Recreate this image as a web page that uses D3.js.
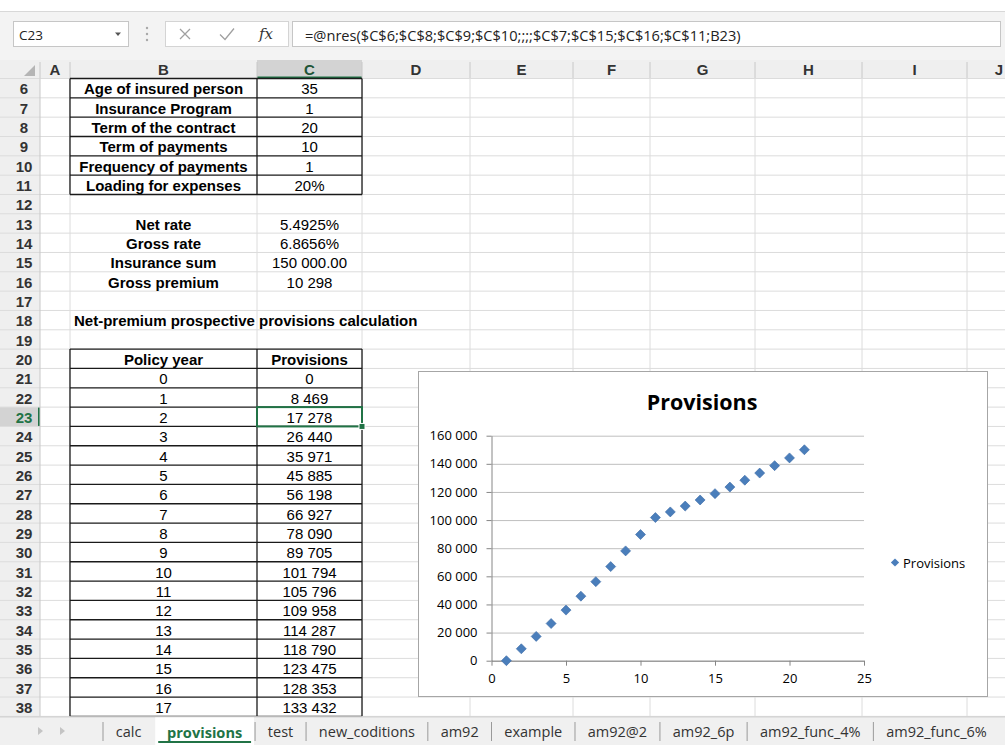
<!DOCTYPE html>
<html>
<head>
<meta charset="utf-8">
<script src="https://cdn.jsdelivr.net/npm/d3@7"></script>
<style>
  body { margin: 0; background: #fff; }
  svg { display: block; }
</style>
</head>
<body>
<svg id="sheet" width="1005" height="745"></svg>
<script>
const colLetters = ["A", "B", "C", "D", "E", "F", "G", "H", "I", "J"]
const paramLabels = ["Age of insured person", "Insurance Program", "Term of the contract", "Term of payments", "Frequency of payments", "Loading for expenses"]
const paramValues = ["35", "1", "20", "10", "1", "20%"]
const rateLabels = ["Net rate", "Gross rate", "Insurance sum", "Gross premium"]
const rateValues = ["5.4925%", "6.8656%", "150 000.00", "10 298"]
const tableTitle = "Net-premium prospective provisions calculation"
const tableHeader = ["Policy year", "Provisions"]
const policyYears = [0, 1, 2, 3, 4, 5, 6, 7, 8, 9, 10, 11, 12, 13, 14, 15, 16, 17, 18, 19, 20]
// last three rows are hidden below row 38, estimated from the chart
const provisions = [0, 8469, 17278, 26440, 35971, 45885, 56198, 66927, 78090, 89705, 101794, 105796, 109958, 114287, 118790, 123475, 128353, 133432, 138700, 144200, 150000]
const yTicks = [0, 20000, 40000, 60000, 80000, 100000, 120000, 140000, 160000]
const xTicks = [0, 5, 10, 15, 20, 25]
const seriesName = "Provisions"
const chartTitle = "Provisions"
const sheetTabs = ["calc", "provisions", "test", "new_coditions", "am92", "example", "am92@2", "am92_6p", "am92_func_4%", "am92_func_6%"]
const activeTab = "provisions"
const nameBox = "C23"
const formulaText = "=@nres($C$6;$C$8;$C$9;$C$10;;;;$C$7;$C$15;$C$16;$C$11;B23)"

// ---- layout ----
const W = 1005, H = 745
const colEdges = [0, 40, 70, 257, 362, 470, 573, 650, 755, 862, 967, 1005]
const FIRST_ROW = 6, LAST_ROW = 38
const ROW_TOP = 78.5, ROW_H = 19.33
const rowTop = r => ROW_TOP + (r - FIRST_ROW) * ROW_H
const rowMid = r => rowTop(r) + ROW_H / 2 + 0.8
const colMid = c => (colEdges[c + 1] + colEdges[c + 2]) / 2   // c = 0 for column A
const SEL_COL = 2, SEL_ROW = 23
const green = "#217346"
const cellFont = "'Liberation Sans', Arial, sans-serif"
const uiFont = "'Open Sans', 'Noto Sans', sans-serif"

const fmt = d3.formatLocale({ decimal: ".", thousands: " ", grouping: [3], currency: ["", ""] }).format(",d")

const svg = d3.select("#sheet")
svg.append("rect").attr("width", W).attr("height", H).attr("fill", "#fff")

// ---- formula bar ----
svg.append("rect").attr("x", 0).attr("y", 11).attr("width", W).attr("height", 49).attr("fill", "#f3f3f3")
svg.append("line").attr("x1", 0).attr("x2", W).attr("y1", 11.5).attr("y2", 11.5).attr("stroke", "#d8d8d8")
svg.append("rect").attr("x", 13.5).attr("y", 21.5).attr("width", 115).attr("height", 25)
    .attr("fill", "#fff").attr("stroke", "#c6c6c6")
svg.append("text").attr("x", 19).attr("y", 34.5).attr("dominant-baseline", "central")
    .attr("font-family", uiFont).attr("font-size", 13.5).attr("fill", "#222").text(nameBox)
svg.append("path").attr("d", "M115,32.5 L121,32.5 L118,36 Z").attr("fill", "#555")
svg.selectAll("circle.dot").data([28, 34, 40]).join("circle").attr("class", "dot")
    .attr("cx", 147).attr("cy", d => d).attr("r", 1.2).attr("fill", "#a8a8a8")
svg.append("rect").attr("x", 165.5).attr("y", 21.5).attr("width", 123).attr("height", 25)
    .attr("fill", "#fff").attr("stroke", "#d4d4d4")
svg.append("path").attr("d", "M180,29 L190,39 M190,29 L180,39").attr("stroke", "#a0a0a0").attr("stroke-width", 1.3)
svg.append("path").attr("d", "M220,34.5 L225,39.5 L234,28.5").attr("stroke", "#a0a0a0").attr("stroke-width", 1.3).attr("fill", "none")
svg.append("text").attr("x", 259).attr("y", 39).attr("font-family", "'DejaVu Serif', serif")
    .attr("font-style", "italic").attr("font-size", 15).attr("fill", "#333").text("fx")
svg.append("rect").attr("x", 292.5).attr("y", 21.5).attr("width", 708).attr("height", 25)
    .attr("fill", "#fff").attr("stroke", "#c6c6c6")
svg.append("text").attr("x", 305).attr("y", 34.5).attr("dominant-baseline", "central")
    .attr("font-family", uiFont).attr("font-size", 14.6).attr("fill", "#222").text(formulaText)

// ---- column headers ----
const hdr = svg.append("g")
hdr.append("rect").attr("x", 0).attr("y", 60).attr("width", W).attr("height", ROW_TOP - 60).attr("fill", "#efefef")
hdr.append("rect").attr("x", colEdges[SEL_COL + 1]).attr("y", 60)
    .attr("width", colEdges[SEL_COL + 2] - colEdges[SEL_COL + 1]).attr("height", ROW_TOP - 60).attr("fill", "#d3d3d3")
hdr.append("line").attr("x1", colEdges[SEL_COL + 1]).attr("x2", colEdges[SEL_COL + 2])
    .attr("y1", ROW_TOP - 1).attr("y2", ROW_TOP - 1).attr("stroke", green).attr("stroke-width", 2)
hdr.selectAll("line.csep").data(colEdges.slice(1, -1)).join("line").attr("class", "csep")
    .attr("x1", d => d).attr("x2", d => d).attr("y1", 62).attr("y2", ROW_TOP).attr("stroke", "#c8c8c8")
hdr.selectAll("text").data(colLetters).join("text")
    .attr("x", (d, i) => i === colLetters.length - 1 ? W - 6 : colMid(i))
    .attr("y", 69.5).attr("dominant-baseline", "central").attr("text-anchor", "middle")
    .attr("font-family", cellFont).attr("font-size", 15).attr("font-weight", "bold")
    .attr("fill", (d, i) => i === SEL_COL ? "#1f5537" : "#333").text(d => d)
hdr.append("path").attr("d", "M35,65 L35,76 L24,76 Z").attr("fill", "#b5b5b5")

// ---- row headers + gridlines ----
const rows = d3.range(FIRST_ROW, LAST_ROW + 1)
const grid = svg.append("g")
grid.append("rect").attr("x", 0).attr("y", ROW_TOP).attr("width", 40).attr("height", rowTop(LAST_ROW + 1) - ROW_TOP).attr("fill", "#efefef")
grid.append("rect").attr("x", 0).attr("y", rowTop(SEL_ROW)).attr("width", 40).attr("height", ROW_H).attr("fill", "#d3d3d3")
grid.append("line").attr("x1", 39).attr("x2", 39).attr("y1", rowTop(SEL_ROW)).attr("y2", rowTop(SEL_ROW + 1))
    .attr("stroke", green).attr("stroke-width", 2)
grid.selectAll("line.h").data(d3.range(FIRST_ROW, LAST_ROW + 2)).join("line").attr("class", "h")
    .attr("x1", 0).attr("x2", W).attr("y1", d => rowTop(d)).attr("y2", d => rowTop(d))
    .attr("stroke", "#dcdcdc")
grid.selectAll("line.v").data(colEdges.slice(1, -1)).join("line").attr("class", "v")
    .attr("x1", d => d).attr("x2", d => d).attr("y1", ROW_TOP).attr("y2", rowTop(LAST_ROW + 1))
    .attr("stroke", (d, i) => i === 0 ? "#c8c8c8" : "#dcdcdc")
grid.selectAll("text").data(rows).join("text")
    .attr("x", 24).attr("y", d => rowMid(d)).attr("dominant-baseline", "central").attr("text-anchor", "middle")
    .attr("font-family", cellFont).attr("font-size", 15).attr("font-weight", "bold")
    .attr("fill", d => d === SEL_ROW ? green : "#333").text(d => d)

// ---- cells ----
const cells = svg.append("g").attr("font-family", cellFont).attr("font-size", 15).attr("fill", "#000")

function borderBox(r0, r1) {
  const x0 = colEdges[2], x1 = colEdges[3], x2 = colEdges[4]
  const g = cells.append("g").attr("stroke", "#1a1a1a").attr("stroke-width", 1.3)
  g.selectAll("line.r").data(d3.range(r0, r1 + 2)).join("line").attr("class", "r")
      .attr("x1", x0).attr("x2", x2).attr("y1", d => rowTop(d)).attr("y2", d => rowTop(d))
  g.selectAll("line.c").data([x0, x1, x2]).join("line").attr("class", "c")
      .attr("x1", d => d).attr("x2", d => d).attr("y1", rowTop(r0)).attr("y2", rowTop(r1 + 1))
}
function putText(row, col, txt, bold, anchor) {
  cells.append("text")
      .attr("x", anchor === "start" ? colEdges[col + 1] + 4 : colMid(col))
      .attr("y", rowMid(row)).attr("dominant-baseline", "central")
      .attr("text-anchor", anchor || "middle").attr("font-weight", bold ? "bold" : "normal").text(txt)
}

const tableRows = Math.min(policyYears.length, LAST_ROW - 21 + 1)
cells.append("rect").attr("x", colEdges[2]).attr("y", rowTop(FIRST_ROW)).attr("width", colEdges[4] - colEdges[2])
    .attr("height", ROW_H * paramLabels.length).attr("fill", "#fff")
cells.append("rect").attr("x", colEdges[2]).attr("y", rowTop(20)).attr("width", colEdges[4] - colEdges[2])
    .attr("height", ROW_H * (tableRows + 1)).attr("fill", "#fff")
borderBox(6, 6 + paramLabels.length - 1)
borderBox(20, 20 + tableRows)

paramLabels.forEach((d, i) => { putText(6 + i, 1, d, true); putText(6 + i, 2, paramValues[i], false) })
rateLabels.forEach((d, i) => { putText(13 + i, 1, d, true); putText(13 + i, 2, rateValues[i], false) })
putText(18, 1, tableTitle, true, "start")
putText(20, 1, tableHeader[0], true); putText(20, 2, tableHeader[1], true)
policyYears.slice(0, tableRows).forEach((d, i) => {
  putText(21 + i, 1, d, false)
  putText(21 + i, 2, fmt(provisions[i]), false)
})

// selected cell
const sx = colEdges[SEL_COL + 1], sx2 = colEdges[SEL_COL + 2]
svg.append("rect").attr("x", sx).attr("y", rowTop(SEL_ROW)).attr("width", sx2 - sx).attr("height", ROW_H)
    .attr("fill", "none").attr("stroke", green).attr("stroke-width", 2)
svg.append("rect").attr("x", sx2 - 3).attr("y", rowTop(SEL_ROW + 1) - 3).attr("width", 6).attr("height", 6)
    .attr("fill", green).attr("stroke", "#fff").attr("stroke-width", 1)

// ---- chart ----
const chart = svg.append("g").attr("font-family", uiFont)
chart.append("rect").attr("x", 418.5).attr("y", 371.5).attr("width", 569).attr("height", 325)
    .attr("fill", "#fff").attr("stroke", "#a6a6a6")

const x = d3.scaleLinear().domain([0, 25]).range([491.5, 864])
const y = d3.scaleLinear().domain([0, 160000]).range([660.7, 435.7])

chart.append("text").attr("x", 702).attr("y", 401).attr("dominant-baseline", "central")
    .attr("text-anchor", "middle").attr("font-size", 21.5).attr("font-weight", "bold").attr("fill", "#000")
    .text(chartTitle)

// gridlines
chart.append("g").attr("transform", `translate(${x(0)},0)`)
    .call(d3.axisLeft(y).tickValues(yTicks).tickSize(-(x(25) - x(0))).tickFormat(""))
    .call(g => g.select(".domain").remove())
    .call(g => g.selectAll("line").attr("stroke", "#bfbfbf"))

// y axis
chart.append("g").attr("transform", `translate(${x(0)},0)`)
    .call(d3.axisLeft(y).tickValues(yTicks).tickSize(5).tickSizeOuter(0).tickPadding(9).tickFormat(fmt))
    .call(g => g.select(".domain").attr("stroke", "#868686"))
    .call(g => g.selectAll("line").attr("stroke", "#868686"))
    .call(g => g.selectAll("text").attr("font-family", uiFont).attr("font-size", 13).attr("fill", "#000"))

// x axis
chart.append("g").attr("transform", `translate(0,${y(0)})`)
    .call(d3.axisBottom(x).tickValues(xTicks).tickSize(5).tickSizeOuter(0).tickPadding(8))
    .call(g => g.select(".domain").attr("stroke", "#868686"))
    .call(g => g.selectAll("line").attr("stroke", "#868686"))
    .call(g => g.selectAll("text").attr("font-family", uiFont).attr("font-size", 13).attr("fill", "#000"))

// markers: Excel places each point on its category position (1, 2, 3, ...)
const diamond = d3.symbol(d3.symbolSquare, 50)
chart.append("g").selectAll("path").data(provisions).join("path")
    .attr("d", diamond)
    .attr("transform", (d, i) => `translate(${x(i + 1)},${y(d)}) rotate(45)`)
    .attr("fill", "#4a7ebb").attr("stroke", "#3f6ea8").attr("stroke-width", 0.6)

// legend
chart.append("path").attr("d", d3.symbol(d3.symbolSquare, 34))
    .attr("transform", "translate(895,562.5) rotate(45)").attr("fill", "#4a7ebb")
chart.append("text").attr("x", 903).attr("y", 562.5).attr("dominant-baseline", "central")
    .attr("font-size", 13).attr("fill", "#000").text(seriesName)

// ---- sheet tabs ----
const tabsY = rowTop(LAST_ROW + 1)
const tabs = svg.append("g").attr("font-family", uiFont)
tabs.append("rect").attr("x", 0).attr("y", tabsY).attr("width", W).attr("height", H - tabsY).attr("fill", "#f0f0f0")
tabs.append("line").attr("x1", 0).attr("x2", W).attr("y1", tabsY + 0.5).attr("y2", tabsY + 0.5).attr("stroke", "#c8c8c8")
tabs.append("path").attr("d", "M43,731 L38,727 L38,735 Z").attr("fill", "#c4c4c4")
tabs.append("path").attr("d", "M60,727 L65,731 L60,735 Z").attr("fill", "#c4c4c4")

let tx = 103
const pad = 12.8
sheetTabs.forEach((name, i) => {
  const on = name === activeTab
  const t = tabs.append("text").attr("y", 731.5).attr("dominant-baseline", "central")
      .attr("font-size", on ? 14.6 : 14.5).attr("font-weight", on ? "bold" : "normal")
      .attr("fill", on ? green : "#333").text(name)
  const w = t.node().getComputedTextLength()
  if (on) {
    tabs.insert("rect", "text").attr("x", tx + 1).attr("y", tabsY + 1).attr("width", w + 2 * pad - 2)
        .attr("height", H - tabsY - 1).attr("fill", "#fff")
    tabs.append("line").attr("x1", tx + 4).attr("x2", tx + w + 2 * pad - 4).attr("y1", 742).attr("y2", 742)
        .attr("stroke", green).attr("stroke-width", 2)
  } else {
    tabs.append("line").attr("x1", tx).attr("x2", tx).attr("y1", 722).attr("y2", 741).attr("stroke", "#9a9a9a")
  }
  t.attr("x", tx + pad)
  tx += w + 2 * pad
})
</script>
</body>
</html>
